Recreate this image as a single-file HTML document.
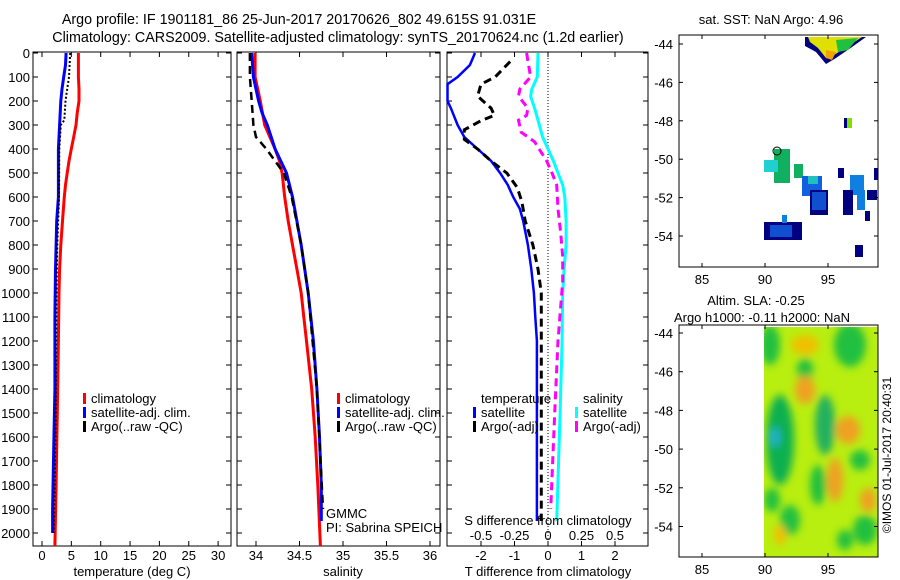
<!DOCTYPE html>
<html><head><meta charset="utf-8">
<style>
html,body{margin:0;padding:0;background:#fff;}
svg{display:block;font-family:"Liberation Sans",sans-serif;}
text{font-size:13px;fill:#000;}
</style></head>
<body>
<svg id="fig" width="900" height="580" viewBox="0 0 900 580">
<text x="299" y="24" text-anchor="middle" style="font-size:14.3px">Argo profile: IF 1901181_86 25-Jun-2017 20170626_802 49.615S 91.031E</text>
<text x="338" y="42" text-anchor="middle" style="font-size:14.3px">Climatology: CARS2009. Satellite-adjusted climatology: synTS_20170624.nc (1.2d earlier)</text>
<g id="p1"></g>
<g id="p2"></g>
<g id="p3"></g>
<g id="m1"></g>
<g id="m2"></g>
<text transform="translate(891,455) rotate(-90)" text-anchor="middle" style="font-size:12px">©IMOS 01-Jul-2017 20:40:31</text>
</svg>
<script>
// ---- data ----
const depthTicks = [0,100,200,300,400,500,600,700,800,900,1000,1100,1200,1300,1400,1500,1600,1700,1800,1900,2000];
const tempTicks = [0,5,10,15,20,25,30];
const salTicks = [34,34.5,35,35.5,36];
const salTickLabels = ["34","34.5","35","35.5","36"];
const tdiffTicks = [-2,-1,0,1,2];
const sdiffTicks = [-0.5,-0.25,0,0.25,0.5];
const sdiffTickLabels = ["-0.5","-0.25","0","0.25","0.5"];

const climTDepth = [0,100,150,200,250,300,350,400,450,500,550,600,700,800,900,1000,1200,1500,1800,2054];
const climTVal   = [6.2,6.2,6.3,6.3,6.0,5.8,5.4,5.0,4.6,4.3,4.0,3.8,3.5,3.2,3.0,2.9,2.8,2.6,2.4,2.2];
const satTDepth  = [0,50,100,150,200,300,350,400,600,700,900,1100,1400,1650,1900,2000];
const satTVal    = [4.1,4.0,3.7,3.4,3.2,3.0,2.9,2.8,2.8,2.5,2.3,2.2,2.2,2.0,1.8,1.8];
const argoTDepth = [0,100,150,200,280,300,400,600,800,1000,1300,1600,1900,2000];
const argoTVal   = [4.8,4.6,4.3,4.0,3.8,3.2,2.95,2.9,2.6,2.45,2.4,2.3,2.1,2.0];

const climSDepth = [0,100,150,200,300,400,450,500,600,700,800,900,1000,1100,1200,1400,1600,1800,2054];
const climSVal   = [33.99,33.99,34.02,34.05,34.1,34.22,34.27,34.3,34.33,34.37,34.42,34.47,34.52,34.55,34.58,34.64,34.68,34.71,34.74];
const satSDepth  = [0,100,200,250,300,400,500,600,700,800,900,1000,1200,1400,1600,1800,1950];
const satSVal    = [33.95,33.97,34.03,34.07,34.13,34.22,34.35,34.42,34.47,34.52,34.56,34.6,34.66,34.7,34.73,34.75,34.75];
const argoSDepth = [0,100,200,300,350,400,450,500,600,800,1000,1400,1900];
const argoSVal   = [33.93,33.93,33.95,33.97,34.0,34.12,34.22,34.32,34.41,34.52,34.6,34.7,34.77];

const tSatDDepth = [0,50,100,130,200,230,300,350,400,450,500,550,600,650,700,800,900,1000,1100,1200,1950];
const tSatDVal   = [-2.18,-2.33,-2.7,-3.0,-3.0,-2.9,-2.7,-2.5,-2.1,-1.7,-1.43,-1.2,-1.04,-0.84,-0.74,-0.6,-0.5,-0.42,-0.38,-0.33,-0.33];
const tArgoDDepth= [36,100,130,180,230,260,280,320,360,400,450,500,560,620,700,800,900,1000,1500,1950];
const tArgoDVal  = [-1.13,-1.58,-2.0,-2.1,-1.7,-1.6,-1.97,-2.5,-2.5,-2.1,-1.7,-1.23,-0.92,-0.78,-0.68,-0.45,-0.3,-0.2,-0.2,-0.2];
const sSatDDepth = [0,100,150,180,230,280,350,400,450,500,550,600,700,800,900,1000,1200,1500,1950];
const sSatDVal   = [-0.075,-0.08,-0.12,-0.13,-0.1,-0.075,-0.04,0,0.04,0.075,0.11,0.125,0.135,0.135,0.12,0.11,0.105,0.09,0.065];
const sArgoDDepth= [0,100,150,180,230,260,280,330,370,450,500,550,650,750,850,950,1200,1500,1900];
const sArgoDVal  = [-0.16,-0.13,-0.21,-0.22,-0.15,-0.16,-0.22,-0.2,-0.1,-0.01,0.03,0.065,0.075,0.095,0.11,0.11,0.075,0.05,0.02];

// ---- geometry ----
const NS="http://www.w3.org/2000/svg";
const top0=53, pxPerM=0.24, plotBottom=546;
function yD(d){return top0+d*pxPerM;}
function xT(t){return 42+t*5.87;}
function xS(s){return 256+(s-34)*87;}
function xTd(t){return 548+t*33.5;}
function xSd(s){return 548+s*134;}
function mk(tag,attrs,parent){const e=document.createElementNS(NS,tag);for(const k in attrs)e.setAttribute(k,attrs[k]);parent.appendChild(e);return e;}
function txt(parent,x,y,s,anchor){const t=mk('text',{x:x,y:y,'text-anchor':anchor||'start'},parent);t.textContent=s;return t;}

function frame(g,x0,x1,name){
  const r=mk('rect',{x:x0,y:52,width:x1-x0,height:plotBottom-52,fill:'none',stroke:'#000','stroke-width':1},g);
  
  
  depthTicks.forEach(d=>{
    mk('line',{x1:x0,x2:x0+5,y1:yD(d),y2:yD(d),stroke:'#000'},g);
    mk('line',{x1:x1,x2:x1-5,y1:yD(d),y2:yD(d),stroke:'#000'},g);
  });
}
function xticks(g,vals,labels,fx,y0,labelY,both){
  vals.forEach((v,i)=>{
    const x=fx(v);
    mk('line',{x1:x,x2:x,y1:plotBottom,y2:plotBottom-5,stroke:'#000'},g);
    if(both) mk('line',{x1:x,x2:x,y1:52,y2:57,stroke:'#000'},g);
    if(labels){const t=txt(g,x,labelY,labels[i],'middle');}
  });
}
function line(g,xs,ds,fx,color,w,dash,name){
  const pts=xs.map((v,i)=>fx(v).toFixed(1)+','+yD(ds[i]).toFixed(1)).join(' ');
  const p=mk('polyline',{points:pts,fill:'none',stroke:color,'stroke-width':w},g);
  if(dash)p.setAttribute('stroke-dasharray',dash);
  
  
}
function legend(g,x,y,color,label,name){
  mk('rect',{x:x,y:y-10,width:3,height:11,fill:color},g);
  const t=txt(g,x+8,y,label);
  
  
}

// Panel 1
const p1=document.getElementById('p1');
frame(p1,33,231,'temperature-axes');
depthTicks.forEach(d=>{const t=txt(p1,30,yD(d)+5,String(d),'end');});
xticks(p1,tempTicks,tempTicks.map(String),xT,0,560,true);
line(p1,climTVal,climTDepth,xT,'#ff0000',3,null,'temp-climatology-line');
line(p1,satTVal,satTDepth,xT,'#0000ff',3,null,'temp-satellite-line');
line(p1,argoTVal,argoTDepth,xT,'#000',2,'2,2','temp-argo-line');
legend(p1,83,403,'#ff0000','climatology','legend-climatology');
legend(p1,83,417,'#0000ff','satellite-adj. clim.','legend-satellite');
legend(p1,83,431,'#000','Argo(..raw -QC)','legend-argo');
txt(p1,132,576,'temperature (deg C)','middle');

// Panel 2
const p2=document.getElementById('p2');
frame(p2,237,440,'salinity-axes');
xticks(p2,salTicks,salTickLabels,xS,0,560,true);
line(p2,climSVal,climSDepth,xS,'#ff0000',3,null,'sal-climatology-line');
line(p2,satSVal,satSDepth,xS,'#0000ff',3,null,'sal-satellite-line');
line(p2,argoSVal,argoSDepth,xS,'#000',2.5,'8,5','sal-argo-line');
legend(p2,337,403,'#ff0000','climatology','legend-climatology');
legend(p2,337,417,'#0000ff','satellite-adj. clim.','legend-satellite');
legend(p2,337,431,'#000','Argo(..raw -QC)','legend-argo');
txt(p2,326,518,'GMMC');
txt(p2,326,532,'PI: Sabrina SPEICH');
txt(p2,343,576,'salinity','middle');

// Panel 3
const p3=document.getElementById('p3');
frame(p3,447,648,'difference-axes');
mk('line',{x1:548,x2:548,y1:52,y2:plotBottom,stroke:'#000','stroke-dasharray':'1,2'},p3);
xticks(p3,tdiffTicks,tdiffTicks.map(String),xTd,0,560,false);
sdiffTicks.forEach(v=>mk('line',{x1:xSd(v),x2:xSd(v),y1:52,y2:57,stroke:'#000'},p3));
line(p3,tSatDVal,tSatDDepth,xTd,'#0000ff',2.5,null,'tdiff-satellite-line');
line(p3,tArgoDVal,tArgoDDepth,xTd,'#000',3,'8,5','tdiff-argo-line');
line(p3,sSatDVal,sSatDDepth,xSd,'#00ffff',3,null,'sdiff-satellite-line');
line(p3,sArgoDVal,sArgoDDepth,xSd,'#ff00ff',3,'8,5','sdiff-argo-line');
txt(p3,481,403,'temperature');
txt(p3,583,403,'salinity');
legend(p3,473,417,'#0000ff','satellite','legend-t-satellite');
legend(p3,473,431,'#000','Argo(-adj)','legend-t-argo');
legend(p3,575,417,'#00ffff','satellite','legend-s-satellite');
legend(p3,575,431,'#ff00ff','Argo(-adj)','legend-s-argo');
txt(p3,548,525,'S difference from climatology','middle');
sdiffTicks.forEach((v,i)=>{const t=txt(p3,xSd(v),540,sdiffTickLabels[i],'middle');});
txt(p3,548,576,'T difference from climatology','middle');

// Maps
function mapFrame(g,y0,y1,yOf,name){
  mk('rect',{x:679,y:y0,width:199,height:y1-y0,fill:'none',stroke:'#000'},g);
  [85,90,95].forEach(lon=>{const x=702+(lon-85)*12.6;
    mk('line',{x1:x,x2:x,y1:y1,y2:y1-4,stroke:'#000'},g);mk('line',{x1:x,x2:x,y1:y0,y2:y0+4,stroke:'#000'},g);
    txt(g,x,y1+17,String(lon),'middle');});
  [-44,-46,-48,-50,-52,-54].forEach(lat=>{const y=yOf(lat);
    mk('line',{x1:679,x2:683,y1:y,y2:y,stroke:'#000'},g);mk('line',{x1:878,x2:874,y1:y,y2:y,stroke:'#000'},g);
    txt(g,673,y+5,String(lat),'end');});
}
const m1=document.getElementById('m1');
txt(m1,771,24,'sat. SST: NaN Argo: 4.96','middle');
const patches=[
 ['#000080','805,37 866,37 852,47 836,58 826,64 816,52 805,46'],
 ['#e0e000','808,37 862,37 850,45 834,55 826,58 818,48 810,42'],
 ['#20c040','836,40 858,38 848,50 838,52'],
 ['#f0a000','826,50 836,52 832,60 826,58'],
];
patches.forEach(p=>mk('polygon',{points:p[1],fill:p[0]},m1));
const rects=[
 ['#000080',844,118,8,10],['#80e000',847,118,5,10],
 ['#10b060',774,149,16,34],['#20d0d0',764,160,14,12],['#10b060',794,164,9,14],
 ['#1060e0',802,176,20,20],['#20c0c0',808,176,10,8],['#000080',810,190,18,25],['#1050d0',812,192,14,18],
 ['#000080',838,168,6,10],['#1080e0',850,175,14,20],['#000080',843,190,10,25],['#1080e0',857,190,8,20],['#000080',867,190,10,10],['#000080',874,168,4,12],['#000080',865,211,5,10],
 ['#000080',764,222,38,18],['#1050d0',770,225,22,12],['#1080e0',782,215,5,8],['#000080',855,245,8,12]
];
rects.forEach(r=>mk('rect',{x:r[1],y:r[2],width:r[3],height:r[4],fill:r[0]},m1));
mk('circle',{cx:777,cy:151,r:4,fill:'none',stroke:'#000'},m1);
mapFrame(m1,35,267,lat=>44+(-44-lat)*19.2,'sst-map-axes');

const m2=document.getElementById('m2');
txt(m2,756,305,'Altim. SLA: -0.25','middle');
txt(m2,762,322,'Argo h1000: -0.11 h2000: NaN','middle');
const defs=mk('defs',{},m2);
const f=mk('filter',{id:'bl',x:'-50%',y:'-50%',width:'200%',height:'200%'},defs);
mk('feGaussianBlur',{stdDeviation:4},f);
const cp=mk('clipPath',{id:'cp2'},defs);mk('rect',{x:764,y:327,width:114,height:230},cp);
mk('rect',{x:764,y:327,width:114,height:230,fill:'#b8ee10'},m2);
const bg=mk('g',{filter:'url(#bl)','clip-path':'url(#cp2)'},m2);
const blobs=[
 ['#20c040',770,345,10,20],['#20c040',850,345,16,22],['#20c040',805,370,8,12],['#10b050',780,440,14,45],['#20b060',825,425,10,30],
 ['#f0c000',805,345,14,10],['#f0a020',805,390,10,14],['#f0a020',848,430,12,14],['#f0a020',835,480,8,22],['#f0a020',868,500,8,12],
 ['#20c040',860,460,10,10],['#20c040',818,485,8,20],['#20c040',790,520,10,15],['#20c040',865,530,12,15],['#20c040',772,500,8,12],
 ['#20b0d0',775,437,5,10],['#f0c000',780,535,6,10],['#20c040',845,540,8,10]
];
blobs.forEach(b=>mk('ellipse',{cx:b[1],cy:b[2],rx:b[3],ry:b[4],fill:b[0]},bg));
mapFrame(m2,325,557,lat=>333+(-44-lat)*19.35,'sla-map-axes');
</script>
</body></html>
